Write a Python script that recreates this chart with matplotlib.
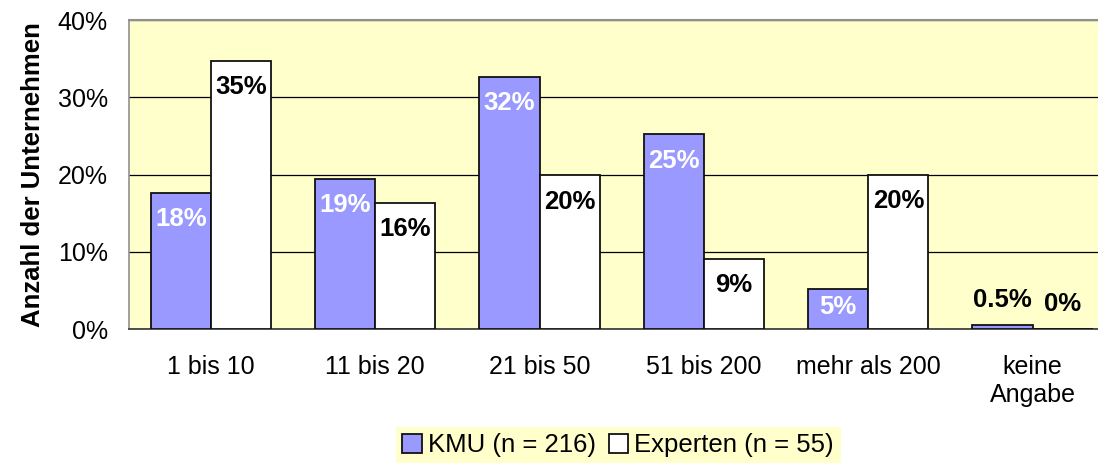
import numpy as np
import matplotlib.pyplot as plt

plt.rcParams['font.family'] = ['Liberation Sans', 'DejaVu Sans']

categories = ['1 bis 10', '11 bis 20', '21 bis 50', '51 bis 200', 'mehr als 200', 'keine\nAngabe']
kmu = [17.6, 19.4, 32.6, 25.2, 5.2, 0.5]
experten = [34.7, 16.3, 19.9, 9.1, 20.0, 0.0]
kmu_labels = ['18%', '19%', '32%', '25%', '5%', '0.5%']
exp_labels = ['35%', '16%', '20%', '9%', '20%', '0%']

fig = plt.figure(figsize=(10.98, 4.63), dpi=100)
# plot area runs past the right edge of the picture, as in the original
ax = fig.add_axes([0.1173, 0.2894, 0.898, 0.6674])
ax.set_facecolor('#FFFFCC')

x = np.arange(len(categories))
w = 0.366
b1 = ax.bar(x - w/2, kmu, w, color='#9999FF', edgecolor='#111111', linewidth=1.3,
            label='KMU (n = 216)', zorder=3)
b2 = ax.bar(x + w/2, experten, w, color='white', edgecolor='#111111', linewidth=1.3,
            label='Experten (n = 55)', zorder=3)

def label_y(v):
    if v < 3:
        return v + 3.3
    return max(v - 3.4, 2.9)

for i in range(len(categories)):
    c = 'white' if kmu[i] >= 3 else 'black'
    ax.text(x[i] - w/2, label_y(kmu[i]), kmu_labels[i], ha='center', va='center',
            fontsize=18.5, fontweight='bold', color=c, zorder=4)
    ax.text(x[i] + w/2, label_y(experten[i]), exp_labels[i], ha='center', va='center',
            fontsize=18.5, fontweight='bold', color='black', zorder=4)

ax.set_xlim(-0.5, len(categories) - 0.5)
ax.set_ylim(0, 40)
ax.set_yticks([0, 10, 20, 30, 40])
ax.set_yticklabels(['0%', '10%', '20%', '30%', '40%'])
ax.set_xticks(x)
ax.set_xticklabels(categories)
ax.tick_params(axis='both', length=0, labelsize=18)
ax.tick_params(axis='x', pad=19)
ax.tick_params(axis='y', pad=15)
ax.yaxis.grid(True, color='black', linewidth=0.9, zorder=0)
ax.set_axisbelow(True)
for s in ['left', 'top', 'right']:
    ax.spines[s].set_color('#909090')
ax.spines['left'].set_linewidth(1.2)
ax.spines['top'].set_linewidth(1.5)
ax.spines['bottom'].set_color('#333333')
ax.spines['bottom'].set_linewidth(1.2)
ax.set_ylabel('Anzahl der Unternehmen', fontsize=18.5, fontweight='bold', labelpad=9)

leg = fig.legend(handles=[b1, b2], loc='center', bbox_to_anchor=(0.563, 0.038),
                 ncol=2, fontsize=18.5, frameon=True, fancybox=False,
                 facecolor='#FFFFCC', edgecolor='none', framealpha=1,
                 handlelength=0.75, handleheight=0.75, handletextpad=0.25,
                 columnspacing=0.5, borderpad=0.25, borderaxespad=0)

fig.savefig('out.png', dpi=100)
